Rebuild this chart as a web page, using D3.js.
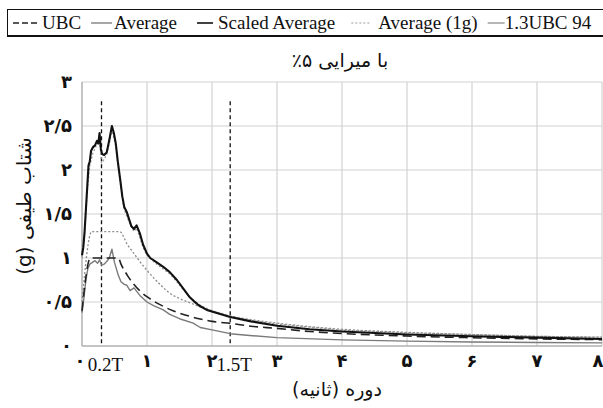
<!DOCTYPE html>
<html>
<head>
<meta charset="utf-8">
<script src="https://cdn.jsdelivr.net/npm/d3@7"></script>
<style>
  html, body { margin: 0; padding: 0; background: #fff; }
  svg { display: block; }
</style>
</head>
<body>
<svg id="chart" width="603" height="408"></svg>
<script>
// Response spectra, 5% damping: period (s) vs spectral acceleration (g)
const ubc = [[0,0.4],[0.13,1.0],[0.56,1.0],[0.6,0.93],[0.7,0.8],[0.8,0.7],[0.9,0.62],[1,0.56],[1.2,0.47],[1.4,0.4],[1.6,0.35],[1.8,0.31],[2,0.28],[2.3,0.255],[2.6,0.225],[3,0.2],[3.5,0.165],[4,0.142],[5,0.113],[6,0.094],[7,0.081],[8,0.072]];
const average = [[0,0.38],[0.03,0.55],[0.06,0.75],[0.09,0.88],[0.12,0.93],[0.16,0.95],[0.2,0.97],[0.24,0.94],[0.27,0.98],[0.3,0.92],[0.34,0.93],[0.38,0.96],[0.42,1.0],[0.46,1.1],[0.5,0.95],[0.56,0.8],[0.6,0.73],[0.65,0.7],[0.69,0.69],[0.74,0.63],[0.8,0.66],[0.89,0.575],[1,0.5],[1.1,0.46],[1.25,0.41],[1.35,0.36],[1.5,0.31],[1.71,0.26],[1.82,0.21],[2.02,0.18],[2.28,0.14],[2.58,0.12],[3,0.095],[4,0.07],[5,0.055],[6,0.045],[7,0.04],[8,0.035]];
const scaledAverage = [[0,1.03],[0.02,1.12],[0.04,1.3],[0.06,1.55],[0.08,1.8],[0.1,2.05],[0.12,2.1],[0.14,2.22],[0.17,2.26],[0.2,2.28],[0.23,2.33],[0.25,2.3],[0.27,2.42],[0.29,2.24],[0.31,2.18],[0.34,2.17],[0.38,2.2],[0.42,2.34],[0.46,2.5],[0.49,2.42],[0.52,2.3],[0.55,2.1],[0.59,1.88],[0.62,1.7],[0.65,1.58],[0.69,1.52],[0.72,1.45],[0.76,1.36],[0.8,1.33],[0.84,1.37],[0.89,1.28],[0.94,1.15],[1,1.05],[1.05,1.0],[1.15,0.95],[1.25,0.9],[1.35,0.84],[1.46,0.75],[1.55,0.66],[1.65,0.56],[1.72,0.51],[1.8,0.46],[1.92,0.41],[2.1,0.37],[2.28,0.33],[2.6,0.28],[3,0.23],[3.5,0.19],[4,0.165],[5,0.13],[6,0.11],[7,0.095],[8,0.08]];
const average1g = [[0,1.0],[0.04,1.28],[0.08,1.75],[0.12,2.05],[0.17,2.2],[0.2,2.24],[0.23,2.3],[0.27,2.38],[0.3,2.08],[0.34,2.12],[0.38,2.18],[0.42,2.3],[0.46,2.46],[0.52,2.27],[0.59,1.85],[0.65,1.55],[0.72,1.42],[0.8,1.3],[0.84,1.34],[0.94,1.12],[1,1.03],[1.15,0.93],[1.35,0.82],[1.46,0.73],[1.65,0.56],[1.8,0.47],[2,0.4],[2.28,0.34],[2.6,0.29],[3,0.25],[4,0.18],[5,0.15],[6,0.13],[7,0.11],[8,0.1]];
const ubc13 = [[0,0.5],[0.15,1.3],[0.58,1.3],[0.7,1.15],[0.8,1.05],[0.9,0.95],[1,0.86],[1.2,0.7],[1.35,0.6],[1.5,0.54],[1.7,0.48],[1.8,0.45],[2,0.4],[2.28,0.34],[2.6,0.3],[3,0.26],[3.5,0.22],[4,0.19],[5,0.155],[6,0.13],[7,0.11],[8,0.1]];

const yTicks = [0, 0.5, 1, 1.5, 2, 2.5, 3];
const yTickLabels = ["۰", "۰/۵", "۱", "۱/۵", "۲", "۲/۵", "۳"];
const xTicks = [0, 1, 2, 3, 4, 5, 6, 7, 8];
const xTickLabels = ["۰", "۱", "۲", "۳", "۴", "۵", "۶", "۷", "۸"];
const markerPeriods = [0.3, 2.28];
const markerLabels = ["0.2T", "1.5T"];
const legendNames = ["UBC", "Average", "Scaled Average", "Average (1g)", "1.3UBC 94"];

const titleText = "با میرایی ۵٪";
const xTitle = "دوره (ثانیه)";
const yTitle = "شتاب طیفی (g)";

const svg = d3.select("#chart");
const margin = {left: 82, right: 1, top: 82, bottom: 62};
const W = 603, H = 408;

const x = d3.scaleLinear().domain([0, 8]).range([margin.left, W - margin.right]);
const y = d3.scaleLinear().domain([0, 3]).range([H - margin.bottom, margin.top]);

const persian = "'DejaVu Sans', 'Noto Sans', sans-serif";
const latin = "'Liberation Serif', 'DejaVu Serif', serif";

// grid
const grid = svg.append("g");
grid.selectAll("line.h").data(yTicks.filter(d => d > 0)).join("line")
  .attr("x1", x(0)).attr("x2", x(8))
  .attr("y1", d => y(d)).attr("y2", d => y(d))
  .attr("stroke", "#d2d2d2").attr("stroke-width", 1.2);
grid.selectAll("line.v").data(xTicks.filter(d => d > 0)).join("line")
  .attr("x1", d => x(d)).attr("x2", d => x(d))
  .attr("y1", y(0)).attr("y2", y(3))
  .attr("stroke", "#d2d2d2").attr("stroke-width", 1.2);

// axis lines
svg.append("line").attr("x1", x(0)).attr("x2", x(0)).attr("y1", y(0)).attr("y2", y(3))
  .attr("stroke", "#b0b0b0").attr("stroke-width", 1.5);
svg.append("line").attr("x1", x(0)).attr("x2", x(8)).attr("y1", y(0)).attr("y2", y(0))
  .attr("stroke", "#b0b0b0").attr("stroke-width", 1.5);

// y tick labels
svg.append("g").selectAll("text").data(yTicks).join("text")
  .attr("x", x(0) - 10).attr("y", d => y(d))
  .attr("dy", "0.35em").attr("text-anchor", "end")
  .attr("font-family", persian).attr("font-size", 18).attr("font-weight", "bold").attr("fill", "#111")
  .text((d, i) => yTickLabels[i]);

// x tick labels
svg.append("g").selectAll("text").data(xTicks).join("text")
  .attr("x", d => x(d) + (d === 0 ? -2 : d === 8 ? -4 : 0)).attr("y", y(0) + 21)
  .attr("text-anchor", "middle")
  .attr("font-family", persian).attr("font-size", 18).attr("font-weight", "bold").attr("fill", "#111")
  .text((d, i) => xTickLabels[i]);

// vertical reference lines at 0.2T and 1.5T
svg.append("g").selectAll("line").data(markerPeriods).join("line")
  .attr("x1", d => x(d)).attr("x2", d => x(d))
  .attr("y1", y(2.78)).attr("y2", y(0))
  .attr("stroke", "#111").attr("stroke-width", 1.3).attr("stroke-dasharray", "4,3");
svg.append("g").selectAll("text").data(markerPeriods).join("text")
  .attr("x", d => x(d) + 4).attr("y", y(0) + 25)
  .attr("text-anchor", "middle")
  .attr("font-family", latin).attr("font-size", 19).attr("fill", "#111")
  .text((d, i) => markerLabels[i]);

// spectra
const lineLinear = d3.line().x(d => x(d[0])).y(d => y(d[1]));
const lineSmooth = d3.line().x(d => x(d[0])).y(d => y(d[1])).curve(d3.curveMonotoneX);

const series = [
  {data: average, gen: lineLinear, stroke: "#7a7a7a", width: 1.4, dash: null},
  {data: ubc13, gen: lineSmooth, stroke: "#8a8a8a", width: 1.3, dash: "2,2"},
  {data: ubc, gen: lineSmooth, stroke: "#222", width: 1.6, dash: "9,5"},
  {data: average1g, gen: lineLinear, stroke: "#999", width: 1.3, dash: "2,2"},
  {data: scaledAverage, gen: lineLinear, stroke: "#111", width: 2.1, dash: null}
];
svg.append("g").selectAll("path").data(series).join("path")
  .attr("d", s => s.gen(s.data))
  .attr("fill", "none")
  .attr("stroke", s => s.stroke)
  .attr("stroke-width", s => s.width)
  .attr("stroke-dasharray", s => s.dash)
  .attr("stroke-linejoin", "round");

// titles
svg.append("text").attr("x", 340).attr("y", 67)
  .attr("text-anchor", "middle").attr("direction", "rtl")
  .attr("font-family", persian).attr("font-size", 19).attr("fill", "#111")
  .text(titleText);
svg.append("text").attr("x", 337).attr("y", 396)
  .attr("text-anchor", "middle").attr("direction", "rtl")
  .attr("font-family", persian).attr("font-size", 19).attr("fill", "#111")
  .text(xTitle);
svg.append("text")
  .attr("transform", `translate(31,206) rotate(-90)`)
  .attr("text-anchor", "middle").attr("direction", "rtl")
  .attr("font-family", persian).attr("font-size", 20).attr("fill", "#111")
  .text(yTitle);

// legend
const legend = svg.append("g");
legend.append("rect").attr("x", 7.5).attr("y", 9.5).attr("width", 600).attr("height", 26)
  .attr("fill", "#fff").attr("stroke", "#111").attr("stroke-width", 1);
legend.append("line").attr("x1", 7).attr("x2", 603).attr("y1", 36).attr("y2", 36)
  .attr("stroke", "#111").attr("stroke-width", 2);

const legendStyles = [
  {stroke: "#222", width: 1.4, dash: "6,3", len: 27, pad: 2, gap: 10},
  {stroke: "#777", width: 1.3, dash: null, len: 21, pad: 2, gap: 20},
  {stroke: "#111", width: 1.6, dash: null, len: 16, pad: 5, gap: 16},
  {stroke: "#999", width: 1.2, dash: "2,2", len: 20, pad: 7, gap: 10},
  {stroke: "#888", width: 1.2, dash: null, len: 17, pad: 0, gap: 0}
];
let cx = 13;
legendNames.forEach((name, i) => {
  const st = legendStyles[i];
  legend.append("line").attr("x1", cx).attr("x2", cx + st.len).attr("y1", 23).attr("y2", 23)
    .attr("stroke", st.stroke).attr("stroke-width", st.width).attr("stroke-dasharray", st.dash);
  const t = legend.append("text").attr("x", cx + st.len + st.pad).attr("y", 29)
    .attr("font-family", latin).attr("font-size", 19).attr("fill", "#111")
    .text(name);
  cx = cx + st.len + st.pad + t.node().getComputedTextLength() + st.gap;
});
</script>
</body>
</html>
